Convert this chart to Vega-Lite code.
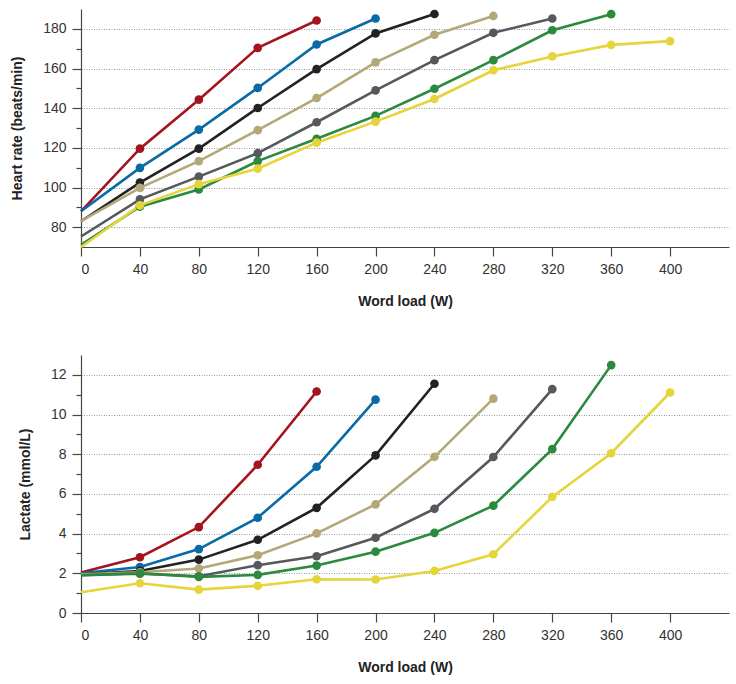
{
  "$schema": "https://vega.github.io/schema/vega-lite/v6.json",
  "padding": {"left": 10, "top": 8, "right": 2, "bottom": 5},
  "spacing": 47,
  "config": {
    "view": {"stroke": null},
    "font": "Liberation Sans, sans-serif",
    "axis": {
      "domainColor": "#444",
      "domainWidth": 1.2,
      "tickColor": "#444",
      "tickWidth": 1.2,
      "labelColor": "#333",
      "labelFontSize": 14,
      "titleFontSize": 14,
      "titleFontWeight": "bold",
      "titleColor": "#222",
      "gridColor": "#999",
      "gridDash": [1, 1.5],
      "gridWidth": 1
    }
  },
  "datasets": {
    "hr": [
      {"series": "A", "load": 0, "value": 88}, {"series": "A", "load": 40, "value": 119.6}, {"series": "A", "load": 80, "value": 144.3}, {"series": "A", "load": 120, "value": 170.4}, {"series": "A", "load": 160, "value": 184.2},
      {"series": "B", "load": 0, "value": 88}, {"series": "B", "load": 40, "value": 109.9}, {"series": "B", "load": 80, "value": 129.2}, {"series": "B", "load": 120, "value": 150.2}, {"series": "B", "load": 160, "value": 172.1}, {"series": "B", "load": 200, "value": 185.2},
      {"series": "C", "load": 0, "value": 83}, {"series": "C", "load": 40, "value": 102.5}, {"series": "C", "load": 80, "value": 119.6}, {"series": "C", "load": 120, "value": 140.1}, {"series": "C", "load": 160, "value": 159.7}, {"series": "C", "load": 200, "value": 177.7}, {"series": "C", "load": 240, "value": 187.5},
      {"series": "D", "load": 0, "value": 83}, {"series": "D", "load": 40, "value": 99.8}, {"series": "D", "load": 80, "value": 113.3}, {"series": "D", "load": 120, "value": 128.9}, {"series": "D", "load": 160, "value": 145.1}, {"series": "D", "load": 200, "value": 163.1}, {"series": "D", "load": 240, "value": 177}, {"series": "D", "load": 280, "value": 186.5},
      {"series": "E", "load": 0, "value": 75.3}, {"series": "E", "load": 40, "value": 94}, {"series": "E", "load": 80, "value": 105.5}, {"series": "E", "load": 120, "value": 117.3}, {"series": "E", "load": 160, "value": 132.9}, {"series": "E", "load": 200, "value": 149}, {"series": "E", "load": 240, "value": 164.2}, {"series": "E", "load": 280, "value": 178}, {"series": "E", "load": 320, "value": 185.2},
      {"series": "F", "load": 0, "value": 71.1}, {"series": "F", "load": 40, "value": 90.3}, {"series": "F", "load": 80, "value": 99}, {"series": "F", "load": 120, "value": 113.3}, {"series": "F", "load": 160, "value": 124.6}, {"series": "F", "load": 200, "value": 136.1}, {"series": "F", "load": 240, "value": 149.8}, {"series": "F", "load": 280, "value": 164.2}, {"series": "F", "load": 320, "value": 179.3}, {"series": "F", "load": 360, "value": 187.4},
      {"series": "G", "load": 0, "value": 70}, {"series": "G", "load": 40, "value": 91}, {"series": "G", "load": 80, "value": 101.7}, {"series": "G", "load": 120, "value": 109.5}, {"series": "G", "load": 160, "value": 122.6}, {"series": "G", "load": 200, "value": 133.2}, {"series": "G", "load": 240, "value": 144.6}, {"series": "G", "load": 280, "value": 159.1}, {"series": "G", "load": 320, "value": 166.1}, {"series": "G", "load": 360, "value": 171.9}, {"series": "G", "load": 400, "value": 173.8}
    ],
    "lactate": [
      {"series": "A", "load": 0, "value": 2.04}, {"series": "A", "load": 40, "value": 2.81}, {"series": "A", "load": 80, "value": 4.33}, {"series": "A", "load": 120, "value": 7.47}, {"series": "A", "load": 160, "value": 11.16},
      {"series": "B", "load": 0, "value": 2.0}, {"series": "B", "load": 40, "value": 2.32}, {"series": "B", "load": 80, "value": 3.22}, {"series": "B", "load": 120, "value": 4.8}, {"series": "B", "load": 160, "value": 7.37}, {"series": "B", "load": 200, "value": 10.75},
      {"series": "C", "load": 0, "value": 1.95}, {"series": "C", "load": 40, "value": 2.12}, {"series": "C", "load": 80, "value": 2.69}, {"series": "C", "load": 120, "value": 3.69}, {"series": "C", "load": 160, "value": 5.3}, {"series": "C", "load": 200, "value": 7.94}, {"series": "C", "load": 240, "value": 11.55},
      {"series": "D", "load": 0, "value": 1.95}, {"series": "D", "load": 40, "value": 2.05}, {"series": "D", "load": 80, "value": 2.24}, {"series": "D", "load": 120, "value": 2.91}, {"series": "D", "load": 160, "value": 4.01}, {"series": "D", "load": 200, "value": 5.47}, {"series": "D", "load": 240, "value": 7.87}, {"series": "D", "load": 280, "value": 10.8},
      {"series": "E", "load": 0, "value": 1.9}, {"series": "E", "load": 40, "value": 1.98}, {"series": "E", "load": 80, "value": 1.85}, {"series": "E", "load": 120, "value": 2.41}, {"series": "E", "load": 160, "value": 2.86}, {"series": "E", "load": 200, "value": 3.79}, {"series": "E", "load": 240, "value": 5.25}, {"series": "E", "load": 280, "value": 7.86}, {"series": "E", "load": 320, "value": 11.28},
      {"series": "F", "load": 0, "value": 1.9}, {"series": "F", "load": 40, "value": 2.0}, {"series": "F", "load": 80, "value": 1.82}, {"series": "F", "load": 120, "value": 1.92}, {"series": "F", "load": 160, "value": 2.39}, {"series": "F", "load": 200, "value": 3.09}, {"series": "F", "load": 240, "value": 4.04}, {"series": "F", "load": 280, "value": 5.41}, {"series": "F", "load": 320, "value": 8.26}, {"series": "F", "load": 360, "value": 12.49},
      {"series": "G", "load": 0, "value": 1.05}, {"series": "G", "load": 40, "value": 1.5}, {"series": "G", "load": 80, "value": 1.18}, {"series": "G", "load": 120, "value": 1.37}, {"series": "G", "load": 160, "value": 1.7}, {"series": "G", "load": 200, "value": 1.69}, {"series": "G", "load": 240, "value": 2.12}, {"series": "G", "load": 280, "value": 2.96}, {"series": "G", "load": 320, "value": 5.85}, {"series": "G", "load": 360, "value": 8.05}, {"series": "G", "load": 400, "value": 11.11}
    ]
  },
  "vconcat": [
    {
      "width": 648,
      "height": 238,
      "data": {"name": "hr"},
      "encoding": {
        "x": {
          "field": "load", "type": "quantitative",
          "scale": {"domain": [0, 440], "nice": false},
          "axis": {"title": "Word load (W)", "values": [0, 40, 80, 120, 160, 200, 240, 280, 320, 360, 400], "grid": false, "tickSize": 9, "labelPadding": 6, "titlePadding": 18}
        },
        "y": {
          "field": "value", "type": "quantitative",
          "scale": {"domain": [70, 190], "nice": false, "zero": false},
          "axis": {
            "title": "Heart rate (beats/min)",
            "values": [80, 90, 100, 110, 120, 130, 140, 150, 160, 170, 180],
            "labelExpr": "datum.value % 20 === 0 ? datum.label : ''",
            "grid": true,
            "gridOpacity": {"condition": {"test": "datum.value % 20 === 0", "value": 1}, "value": 0},
            "tickSize": {"condition": {"test": "datum.value % 20 === 0", "value": 9}, "value": 5},
            "labelPadding": 6,
            "titlePadding": 18
          }
        },
        "color": {
          "field": "series", "type": "nominal", "legend": null,
          "scale": {"domain": ["A", "B", "C", "D", "E", "F", "G"], "range": ["#A3141E", "#0A6AA6", "#222222", "#B3A877", "#55585C", "#2B8A3E", "#E5D43A"]}
        }
      },
      "layer": [
        {"mark": {"type": "line", "strokeWidth": 2.6, "clip": false}},
        {"transform": [{"filter": "datum.load > 0"}], "mark": {"type": "circle", "size": 75, "opacity": 1, "clip": false}}
      ]
    },
    {
      "width": 648,
      "height": 258,
      "data": {"name": "lactate"},
      "encoding": {
        "x": {
          "field": "load", "type": "quantitative",
          "scale": {"domain": [0, 440], "nice": false},
          "axis": {"title": "Word load (W)", "values": [0, 40, 80, 120, 160, 200, 240, 280, 320, 360, 400], "grid": false, "tickSize": 9, "labelPadding": 6, "titlePadding": 18}
        },
        "y": {
          "field": "value", "type": "quantitative",
          "scale": {"domain": [0, 13], "nice": false},
          "axis": {
            "title": "Lactate (mmol/L)",
            "values": [0, 1, 2, 3, 4, 5, 6, 7, 8, 9, 10, 11, 12],
            "labelExpr": "datum.value % 2 === 0 ? datum.label : ''",
            "grid": true,
            "gridOpacity": {"condition": {"test": "datum.value % 2 === 0 && datum.value > 0", "value": 1}, "value": 0},
            "tickSize": {"condition": {"test": "datum.value % 2 === 0", "value": 9}, "value": 5},
            "labelPadding": 6,
            "titlePadding": 18
          }
        },
        "color": {
          "field": "series", "type": "nominal", "legend": null,
          "scale": {"domain": ["A", "B", "C", "D", "E", "F", "G"], "range": ["#A3141E", "#0A6AA6", "#222222", "#B3A877", "#55585C", "#2B8A3E", "#E5D43A"]}
        }
      },
      "layer": [
        {"mark": {"type": "line", "strokeWidth": 2.6, "clip": false}},
        {"transform": [{"filter": "datum.load > 0"}], "mark": {"type": "circle", "size": 75, "opacity": 1, "clip": false}}
      ]
    }
  ]
}
